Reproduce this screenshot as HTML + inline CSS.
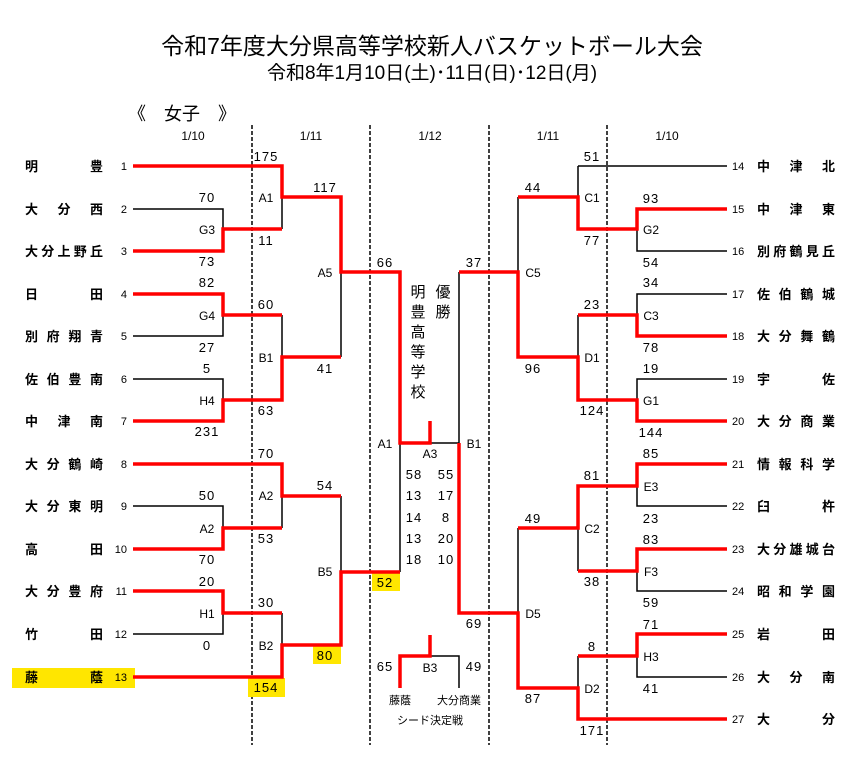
<!DOCTYPE html>
<html><head><meta charset="utf-8"><style>
html,body{margin:0;padding:0;background:#fff;width:865px;height:775px;overflow:hidden}
svg{display:block}
text{font-family:"Liberation Sans","Noto Sans CJK JP",sans-serif;fill:#000}
.n{font-size:13px;text-anchor:middle;letter-spacing:1px}
.l{font-size:12px;text-anchor:middle}
.t{font-size:13px;font-weight:bold}
.k{font-size:11px;text-anchor:end}
.kr{font-size:11px;text-anchor:start}
.r{stroke:#f00;stroke-width:3.5;fill:none}
.b{stroke:#000;stroke-width:1.5;fill:none}
.d{stroke:#000;stroke-width:1.5;stroke-dasharray:4,2}
</style></head><body>
<svg width="865" height="775" viewBox="0 0 865 775" xmlns="http://www.w3.org/2000/svg">
<text x="432" y="54" style="font-size:23px;text-anchor:middle">令和7年度大分県高等学校新人バスケットボール大会</text>
<text x="432" y="79" style="font-size:19px;text-anchor:middle">令和8年1月10日(土)･11日(日)･12日(月)</text>
<text x="128" y="120" style="font-size:18px">《　女子　》</text>
<text x="193" y="140" class="l">1/10</text><text x="311" y="140" class="l">1/11</text><text x="430" y="140" class="l">1/12</text><text x="548" y="140" class="l">1/11</text><text x="667" y="140" class="l">1/10</text>
<line x1="252" y1="125" x2="252" y2="745" class="d"/><line x1="370" y1="125" x2="370" y2="745" class="d"/><line x1="489" y1="125" x2="489" y2="745" class="d"/><line x1="607" y1="125" x2="607" y2="745" class="d"/>
<rect x="12" y="668" width="123" height="20" fill="#ffe600"/>
<rect x="248" y="678" width="37" height="19" fill="#ffe600"/>
<rect x="313" y="646" width="28" height="18" fill="#ffe600"/>
<rect x="372" y="573" width="28" height="18" fill="#ffe600"/>
<path class="b" d="M133 209H223V229M282 197V229M133 336H223V315M133 379H223V400M282 315V357M341 272V357M282 496V528M133 506H223V528M133 634H223V613M282 613V645M341 572V496M400 443V572M430 443H459V272M518 197V272M578 166H727M578 166V197M637 229V251H727M637 315V294H727M578 315V357M637 400V379H727M518 528V613M637 486V506H727M578 528V571M637 571V591H727M578 688V656M637 656V677H727M430 656H459V688"/>
<path class="r" d="M133 166H282V197H341V272H400V443H430V421M133 251H223V229H282M133 294H223V315H282M133 421H223V400H282V357H341M133 464H282V496H341M133 549H223V528H282M133 591H223V613H282M133 677H282V645H341V572H400M459 443V613H518V688H578V719H727M459 272H518V357H578V400H637V421H727M518 197H578V229H637V209H727M578 315H637V336H727M518 528H578V486H637V464H727M578 571H637V549H727M578 656H637V634H727M430 635V656H400V688"/>
<g class="t">
<text x="25" y="171" textLength="78" lengthAdjust="spacing">明豊</text>
<text x="25" y="214" textLength="78" lengthAdjust="spacing">大分西</text>
<text x="25" y="256" textLength="78" lengthAdjust="spacing">大分上野丘</text>
<text x="25" y="299" textLength="78" lengthAdjust="spacing">日田</text>
<text x="25" y="341" textLength="78" lengthAdjust="spacing">別府翔青</text>
<text x="25" y="384" textLength="78" lengthAdjust="spacing">佐伯豊南</text>
<text x="25" y="426" textLength="78" lengthAdjust="spacing">中津南</text>
<text x="25" y="469" textLength="78" lengthAdjust="spacing">大分鶴崎</text>
<text x="25" y="511" textLength="78" lengthAdjust="spacing">大分東明</text>
<text x="25" y="554" textLength="78" lengthAdjust="spacing">高田</text>
<text x="25" y="596" textLength="78" lengthAdjust="spacing">大分豊府</text>
<text x="25" y="639" textLength="78" lengthAdjust="spacing">竹田</text>
<text x="25" y="682" textLength="78" lengthAdjust="spacing">藤蔭</text>
</g>
<g class="k">
<text x="127" y="170">1</text><text x="127" y="213">2</text><text x="127" y="255">3</text><text x="127" y="298">4</text><text x="127" y="340">5</text><text x="127" y="383">6</text><text x="127" y="425">7</text><text x="127" y="468">8</text><text x="127" y="510">9</text><text x="127" y="553">10</text><text x="127" y="595">11</text><text x="127" y="638">12</text><text x="127" y="681">13</text>
</g>
<g class="kr">
<text x="732" y="170">14</text><text x="732" y="213">15</text><text x="732" y="255">16</text><text x="732" y="298">17</text><text x="732" y="340">18</text><text x="732" y="383">19</text><text x="732" y="425">20</text><text x="732" y="468">21</text><text x="732" y="510">22</text><text x="732" y="553">23</text><text x="732" y="595">24</text><text x="732" y="638">25</text><text x="732" y="681">26</text><text x="732" y="723">27</text>
</g>
<g class="t">
<text x="757" y="171" textLength="78" lengthAdjust="spacing">中津北</text>
<text x="757" y="214" textLength="78" lengthAdjust="spacing">中津東</text>
<text x="757" y="256" textLength="78" lengthAdjust="spacing">別府鶴見丘</text>
<text x="757" y="299" textLength="78" lengthAdjust="spacing">佐伯鶴城</text>
<text x="757" y="341" textLength="78" lengthAdjust="spacing">大分舞鶴</text>
<text x="757" y="384" textLength="78" lengthAdjust="spacing">宇佐</text>
<text x="757" y="426" textLength="78" lengthAdjust="spacing">大分商業</text>
<text x="757" y="469" textLength="78" lengthAdjust="spacing">情報科学</text>
<text x="757" y="511" textLength="78" lengthAdjust="spacing">臼杵</text>
<text x="757" y="554" textLength="78" lengthAdjust="spacing">大分雄城台</text>
<text x="757" y="596" textLength="78" lengthAdjust="spacing">昭和学園</text>
<text x="757" y="639" textLength="78" lengthAdjust="spacing">岩田</text>
<text x="757" y="682" textLength="78" lengthAdjust="spacing">大分南</text>
<text x="757" y="724" textLength="78" lengthAdjust="spacing">大分</text>
</g>
<g class="n">
<text x="207" y="202">70</text><text x="207" y="266">73</text><text x="207" y="287">82</text><text x="207" y="352">27</text><text x="207" y="373">5</text><text x="207" y="436">231</text><text x="207" y="500">50</text><text x="207" y="564">70</text><text x="207" y="586">20</text><text x="207" y="650">0</text>
<text x="266" y="161">175</text><text x="266" y="245">11</text><text x="266" y="309">60</text><text x="266" y="415">63</text><text x="266" y="458">70</text><text x="266" y="543">53</text><text x="266" y="607">30</text><text x="266" y="692">154</text>
<text x="325" y="192">117</text><text x="325" y="373">41</text><text x="325" y="490">54</text><text x="325" y="660">80</text>
<text x="385" y="267">66</text><text x="385" y="587">52</text>
<text x="474" y="267">37</text><text x="474" y="628">69</text>
<text x="533" y="192">44</text><text x="533" y="373">96</text><text x="533" y="523">49</text><text x="533" y="703">87</text>
<text x="592" y="161">51</text><text x="592" y="245">77</text><text x="592" y="309">23</text><text x="592" y="415">124</text><text x="592" y="480">81</text><text x="592" y="586">38</text><text x="592" y="651">8</text><text x="592" y="735">171</text>
<text x="651" y="203">93</text><text x="651" y="267">54</text><text x="651" y="287">34</text><text x="651" y="352">78</text><text x="651" y="373">19</text><text x="651" y="437">144</text><text x="651" y="458">85</text><text x="651" y="523">23</text><text x="651" y="544">83</text><text x="651" y="607">59</text><text x="651" y="629">71</text><text x="651" y="693">41</text>
<text x="414" y="479">58</text><text x="446" y="479">55</text>
<text x="414" y="500">13</text><text x="446" y="500">17</text>
<text x="414" y="522">14</text><text x="446" y="522">8</text>
<text x="414" y="543">13</text><text x="446" y="543">20</text>
<text x="414" y="564">18</text><text x="446" y="564">10</text>
<text x="385" y="671">65</text><text x="474" y="671">49</text>
</g>
<g class="l">
<text x="207" y="234">G3</text><text x="207" y="320">G4</text><text x="207" y="405">H4</text><text x="207" y="533">A2</text><text x="207" y="618">H1</text>
<text x="266" y="202">A1</text><text x="266" y="362">B1</text><text x="266" y="500">A2</text><text x="266" y="650">B2</text>
<text x="325" y="277">A5</text><text x="325" y="576">B5</text>
<text x="385" y="448">A1</text><text x="430" y="458">A3</text><text x="474" y="448">B1</text>
<text x="533" y="277">C5</text><text x="533" y="618">D5</text>
<text x="592" y="202">C1</text><text x="592" y="362">D1</text><text x="592" y="533">C2</text><text x="592" y="693">D2</text>
<text x="651" y="234">G2</text><text x="651" y="320">C3</text><text x="651" y="405">G1</text><text x="651" y="491">E3</text><text x="651" y="576">F3</text><text x="651" y="661">H3</text>
<text x="430" y="672">B3</text>
</g>
<g style="font-size:15px;text-anchor:middle">
<text x="418" y="297">明</text><text x="418" y="317">豊</text><text x="418" y="337">高</text><text x="418" y="357">等</text><text x="418" y="377">学</text><text x="418" y="397">校</text>
<text x="443" y="297">優</text><text x="443" y="317">勝</text>
</g>
<text x="400" y="704" style="font-size:11px;text-anchor:middle">藤蔭</text>
<text x="459" y="704" style="font-size:11px;text-anchor:middle">大分商業</text>
<text x="430" y="724" style="font-size:11px;text-anchor:middle">シード決定戦</text>
</svg>
</body></html>
